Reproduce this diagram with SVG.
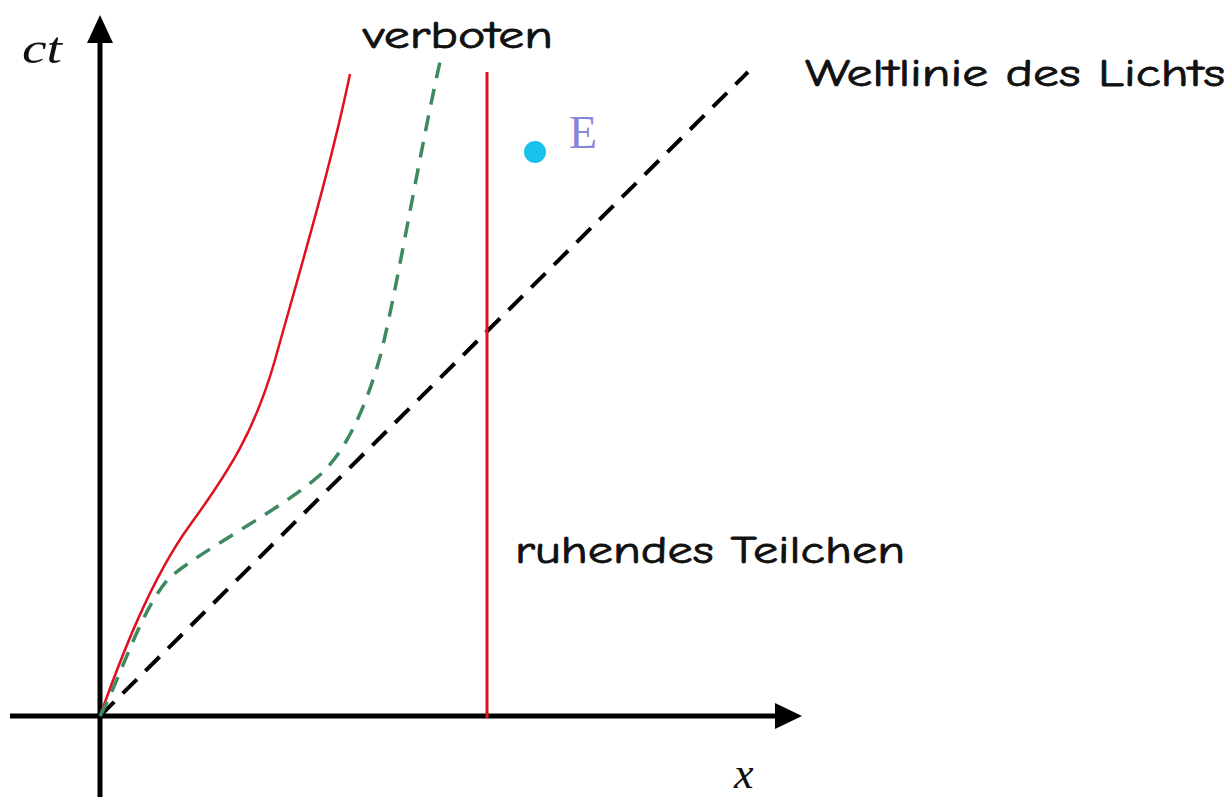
<svg xmlns="http://www.w3.org/2000/svg" width="1232" height="797" viewBox="0 0 1232 797">
<defs>
<style>
.lbl{font-family:"Comic Neue","DejaVu Sans","Noto Sans",sans-serif;fill:#111;stroke:#111;stroke-width:0.8;font-size:38px}
.math{font-family:"Liberation Serif","DejaVu Serif",serif;font-style:italic;fill:#111;font-size:44px}
.axis{stroke:#000;stroke-width:5;fill:none}
</style>
</defs>
<rect width="1232" height="797" fill="#fff"/>
<g id="connectors">
<line class="axis" x1="100" y1="797" x2="100" y2="40"/>
<polygon points="100,15 87,43 113,43" fill="#000"/>
<line class="axis" x1="10" y1="716" x2="778" y2="716"/>
<polygon points="802,716 775,703 775,729" fill="#000"/>
<line id="light" x1="100" y1="716" x2="748" y2="72" stroke="#000" stroke-width="4" stroke-dasharray="20,12"/>
<line id="rest" x1="487" y1="72" x2="487" y2="718" stroke="#e0101e" stroke-width="3"/>
<path id="red-curve" d="M100,716 C120,660 150,580 190,525 C230,470 255,430 275,360 C300,270 330,170 350,74" fill="none" stroke="#e0101e" stroke-width="2.5"/>
<path id="green-curve" d="M100,716 C120,680 140,610 170,577 C210,545 280,510 320,475 C345,452 365,410 380,357 C395,300 420,150 440,62" fill="none" stroke="#3d8a60" stroke-width="3.5" stroke-dasharray="16,11"/>
</g>
<g id="ct"><text class="math" x="22" y="63" textLength="40" lengthAdjust="spacingAndGlyphs">ct</text></g>
<g id="x-label"><text class="math" x="734" y="788">x</text></g>
<g id="verboten"><text class="lbl" x="363" y="48" textLength="190" lengthAdjust="spacingAndGlyphs">verboten</text></g>
<g id="weltlinie"><text class="lbl" x="805" y="86" textLength="420" lengthAdjust="spacingAndGlyphs">Weltlinie des Lichts</text></g>
<g id="ruhendes"><text class="lbl" x="515" y="563" textLength="390" lengthAdjust="spacingAndGlyphs">ruhendes Teilchen</text></g>
<g id="event-E">
<circle cx="535" cy="152" r="11" fill="#17c3ea"/>
<text x="569" y="148" font-family="Liberation Serif, DejaVu Serif, serif" font-size="46" fill="#8a84d8">E</text>
</g>
</svg>
